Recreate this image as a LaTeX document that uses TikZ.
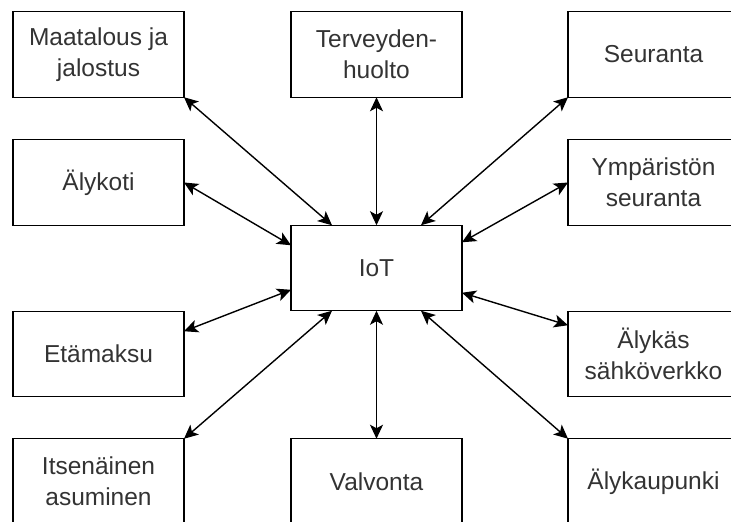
\documentclass[tikz,border=0pt]{standalone}
\usepackage{fontspec}
\setmainfont{Liberation Sans}
\usetikzlibrary{positioning,arrows.meta}

\begin{document}
\begin{tikzpicture}[x=1pt,y=-1pt,
    box/.style={draw, line width=1.3pt, minimum width=171pt, minimum height=85.5pt, inner sep=0pt, outer sep=0pt, align=center, text=black!80, font=\fontsize{24.5}{31}\selectfont},
    link/.style={{Stealth[length=14pt,width=13pt,inset=3.5pt]}-{Stealth[length=14pt,width=13pt,inset=3.5pt]}, line width=1.4pt}]
        \clip (0,0) rectangle (731,522);
        \foreach \x/\y/\name/\txt in {98.5/54.5/maa/{Maatalous ja\\jalostus}, 376.5/54.5/ter/{Terveyden-\\huolto}, 653.5/54.5/seu/Seuranta, 98.5/182.5/aly/Älykoti, 653.5/182.5/ymp/{Ympäristön\\seuranta}, 376.5/268/iot/IoT, 98.5/354/eta/Etämaksu, 653.5/354/sah/{Älykäs\\sähköverkko}, 98.5/481.5/its/{Itsenäinen\\asuminen}, 376.5/481.5/val/Valvonta, 653.5/481.5/kau/Älykaupunki}{\node[box] (\name) at (\x,\y) {\txt};}
       \draw[link] ([xshift=41pt]iot.north west) -- (maa.south east);
       \draw[link] (iot.north) -- (ter.south);
       \draw[link] ([xshift=-41pt]iot.north east) -- (seu.south west);
       \draw[link] ([yshift=-20pt]iot.north west) -- (aly.east);
       \draw[link] ([yshift=-17pt]iot.north east) -- (ymp.west);
       \draw[link] ([yshift=21pt]iot.south west) -- ([yshift=-20pt]eta.north east);
       \draw[link] ([yshift=18pt]iot.south east) -- ([yshift=-14pt]sah.north west);
       \draw[link] ([xshift=41pt]iot.south west) -- (its.north east);
       \draw[link] (iot.south) -- (val.north);
       \draw[link] ([xshift=-41pt]iot.south east) -- (kau.north west);
    \end{tikzpicture}
\end{document}
